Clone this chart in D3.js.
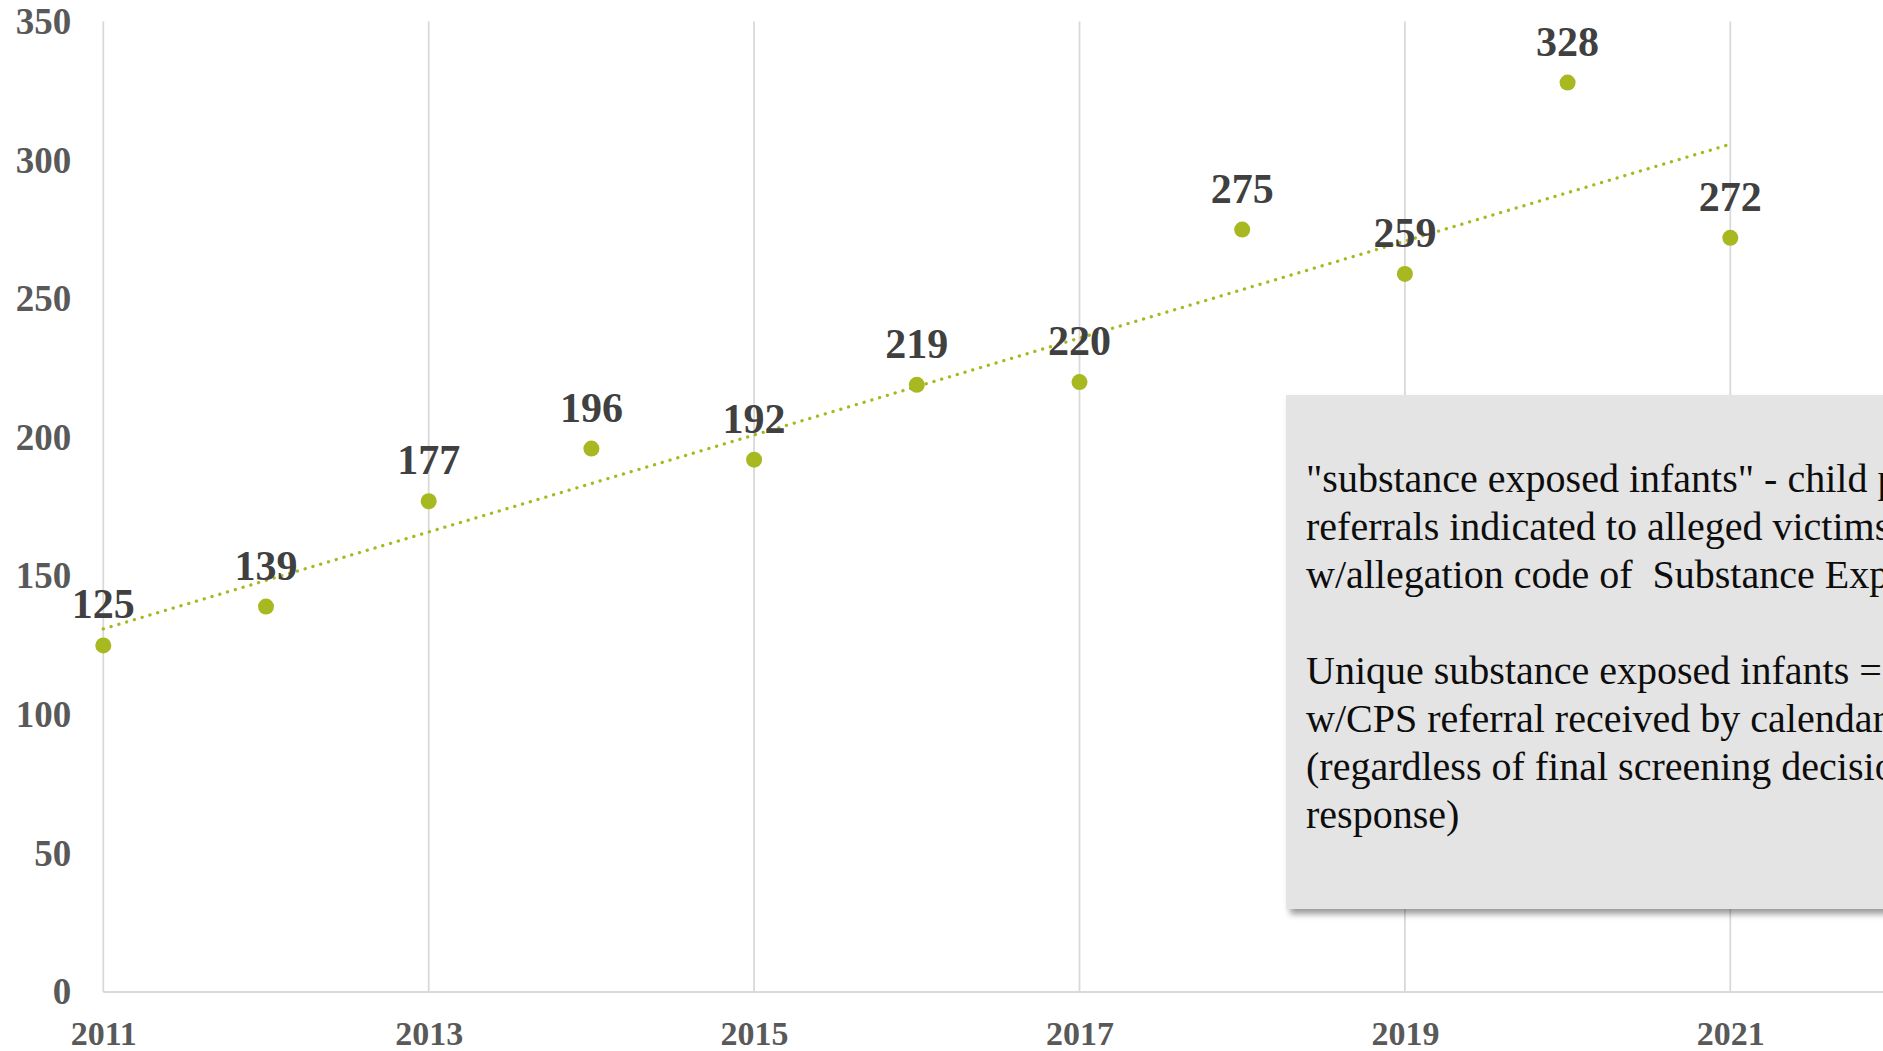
<!DOCTYPE html>
<html>
<head>
<meta charset="utf-8">
<script src="https://cdn.jsdelivr.net/npm/d3@7"></script>
<style>
  html, body { margin: 0; padding: 0; background: #fff; overflow: hidden; }
  svg { display: block; }
  .axis text { font-family: "Liberation Serif", "Times New Roman", serif; font-weight: bold; fill: #595959; }
  .data-label { font-family: "Liberation Serif", "Times New Roman", serif; font-weight: bold; fill: #404040; font-size: 42px; }
  .note text { font-family: "Liberation Serif", "Times New Roman", serif; fill: #0d0d0d; font-size: 40px; white-space: pre; }
</style>
</head>
<body>
<svg id="chart"></svg>
<script>
// data
const years = [2011, 2012, 2013, 2014, 2015, 2016, 2017, 2018, 2019, 2020, 2021];
const infants = [125, 139, 177, 196, 192, 219, 220, 275, 259, 328, 272];
const yTicks = [0, 50, 100, 150, 200, 250, 300, 350];
const xTicks = [2011, 2013, 2015, 2017, 2019, 2021];
const noteLines = [
    "\"substance exposed infants\" - child protective",
    "referrals indicated to alleged victims",
    "w/allegation code of  Substance Exposed",
    "",
    "Unique substance exposed infants =",
    "w/CPS referral received by calendar",
    "(regardless of final screening decision",
    "response)"
];

const width = 1883, height = 1051;
const green = "#a8b820";
const gridColor = "#d9d9d9";

const svg = d3.select("#chart")
    .attr("width", width)
    .attr("height", height);

// scales
const x = d3.scaleLinear()
    .domain([2011, 2022])
    .range([103.3, 1893]);
const y = d3.scaleLinear()
    .domain([0, 350])
    .range([992, 21.6]);

// vertical gridlines
svg.append("g")
    .selectAll("line")
    .data(xTicks)
    .join("line")
        .attr("x1", d => x(d))
        .attr("x2", d => x(d))
        .attr("y1", y(0))
        .attr("y2", y(350))
        .attr("stroke", gridColor)
        .attr("stroke-width", 1.8);

// baseline
svg.append("line")
    .attr("x1", x(2011))
    .attr("x2", width)
    .attr("y1", y(0))
    .attr("y2", y(0))
    .attr("stroke", gridColor)
    .attr("stroke-width", 2);

// axes (labels only)
const yAxis = d3.axisLeft(y)
    .tickValues(yTicks)
    .tickSize(0)
    .tickPadding(32);
svg.append("g")
    .attr("class", "axis y-axis")
    .attr("transform", `translate(${x(2011)},0)`)
    .call(yAxis)
    .call(g => g.select(".domain").remove());
svg.selectAll(".y-axis text").attr("font-size", 37).attr("font-family", null);

const xAxis = d3.axisBottom(x)
    .tickValues(xTicks)
    .tickFormat(d3.format("d"))
    .tickSize(0)
    .tickPadding(29);
svg.append("g")
    .attr("class", "axis x-axis")
    .attr("transform", `translate(0,${y(0)})`)
    .call(xAxis)
    .call(g => g.select(".domain").remove());
svg.selectAll(".x-axis text").attr("font-size", 34).attr("font-family", null);

// linear trendline (least squares)
const n = years.length;
const mx = d3.mean(years), my = d3.mean(infants);
let sxy = 0, sxx = 0;
years.forEach((yr, i) => {
    sxy += (yr - mx) * (infants[i] - my);
    sxx += (yr - mx) * (yr - mx);
});
const slope = sxy / sxx;
const intercept = my - slope * mx;
const trend = [years[0], years[n - 1]].map(yr => [yr, intercept + slope * yr]);

svg.append("path")
    .datum(trend)
    .attr("fill", "none")
    .attr("stroke", green)
    .attr("stroke-width", 3.3)
    .attr("stroke-linecap", "round")
    .attr("stroke-dasharray", "0.1 8")
    .attr("d", d3.line().x(d => x(d[0])).y(d => y(d[1])));

// points
svg.append("g")
    .selectAll("circle")
    .data(years)
    .join("circle")
        .attr("cx", d => x(d))
        .attr("cy", (d, i) => y(infants[i]))
        .attr("r", 8)
        .attr("fill", green);

// data labels
svg.append("g")
    .selectAll("text")
    .data(years)
    .join("text")
        .attr("class", "data-label")
        .attr("x", d => x(d))
        .attr("y", (d, i) => y(infants[i]) - 27)
        .attr("text-anchor", "middle")
        .text((d, i) => infants[i]);

// note box
const defs = svg.append("defs");
const shadow = defs.append("filter")
    .attr("id", "shadow")
    .attr("x", "-5%").attr("y", "-5%")
    .attr("width", "120%").attr("height", "120%");
shadow.append("feDropShadow")
    .attr("dx", 4)
    .attr("dy", 5)
    .attr("stdDeviation", 3)
    .attr("flood-color", "#000")
    .attr("flood-opacity", 0.4);

const note = svg.append("g").attr("class", "note");
note.append("rect")
    .attr("x", 1286)
    .attr("y", 395)
    .attr("width", 700)
    .attr("height", 514)
    .attr("fill", "#e4e4e4")
    .attr("filter", "url(#shadow)");

note.selectAll("text")
    .data(noteLines)
    .join("text")
        .attr("x", 1306)
        .attr("y", (d, i) => 492 + i * 48)
        .text(d => d);
</script>
</body>
</html>
